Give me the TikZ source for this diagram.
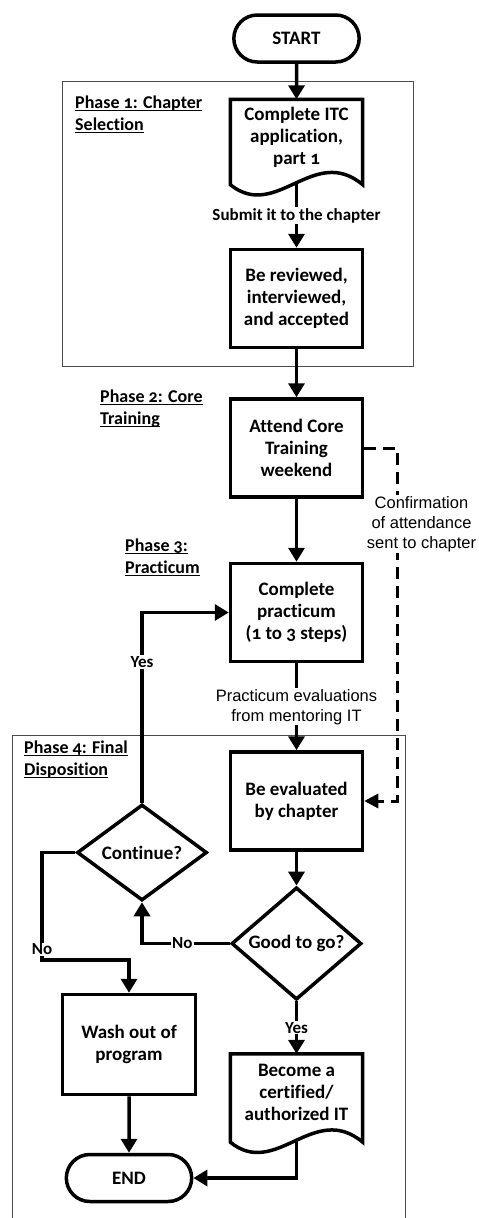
\documentclass[tikz,border=0pt]{standalone}
\usepackage{fontspec}
\setmainfont{Carlito}[Numbers=OldStyle, Ligatures=NoCommon]
\newfontfamily\arialfont{Liberation Sans}
\newsavebox\phulbox
\newcommand\phaseul[1]{\sbox\phulbox{#1}\rlap{\rule[-2.2pt]{\wd\phulbox}{1.2pt}}\usebox\phulbox}
\usetikzlibrary{shapes.geometric,shapes.misc,arrows.meta,calc}

\begin{document}
\begin{tikzpicture}[x=1pt,y=-1pt,
  box/.style={draw, line width=3.5pt, minimum width=132pt, minimum height=98pt, align=center, inner sep=2pt, font=\fontsize{19}{22}\selectfont\bfseries},
  doc/.style={minimum width=132pt, minimum height=76pt, align=center, inner sep=2pt, font=\fontsize{19}{22}\selectfont\bfseries},
  docline/.style={draw, line width=3.5pt},
  term/.style={draw, rounded rectangle, line width=3.5pt, minimum width=132pt, minimum height=47pt, font=\fontsize{19}{22}\selectfont\bfseries},
  decide/.style={draw, diamond, line width=3.5pt, minimum width=130pt, minimum height=96pt, inner sep=0pt, font=\fontsize{19}{22}\selectfont\bfseries},
  phase/.style={anchor=north west, align=left, inner sep=0pt, font=\fontsize{18}{22}\selectfont\bfseries},
  phasebox/.style={draw=black!70, line width=1pt},
  flow/.style={line width=3.5pt, -{Triangle[length=14pt,width=16pt]}},
  dashlink/.style={line width=3pt, dash pattern=on 12pt off 7pt, -{Triangle[length=14pt,width=14pt]}},
  note/.style={fill=white, inner sep=1pt, font=\fontsize{17}{20}\selectfont\bfseries},
  remark/.style={fill=white, inner sep=1pt, align=center, font=\arialfont\fontsize{16.5}{20}\selectfont},
]
\useasboundingbox (0,0) rectangle (479,1218);

% phase frames
\draw[phasebox] (62,81) rectangle (413,366);
\draw[phasebox] (12,735) rectangle (405,1240);

\node[phase] (ph1) at (75,96) {\phaseul{Phase 1: Chapter}\\\phaseul{Selection}};
\node[phase] (ph2) at (100,390) {\phaseul{Phase 2: Core}\\\phaseul{Training}};
\node[phase] (ph3) at (125,539) {\phaseul{Phase 3:}\\\phaseul{Practicum}};
\node[phase] (ph4) at (24,741) {\phaseul{Phase 4: Final}\\\phaseul{Disposition}};

% main column
\node[term] (start) at (296.5,38.5) {START};
\node[doc] (app) at (296.5,137.5) {Complete ITC\\application,\\part 1};
\draw[docline] (app.north west) -- (app.north east) -- ($(app.south east)+(0,9)$)
  .. controls +(-49,-41) and +(46,37) .. ($(app.south west)+(0,9)$) -- cycle;
\coordinate (appfoot) at ($(app.south)+(0,7.5)$);
\node[box] (rev) at (296.5,298.5) {Be reviewed,\\interviewed,\\and accepted};
\node[box] (att) at (296.5,448) {Attend Core\\Training\\weekend};
\node[box] (prac) at (296.5,612.5) {Complete\\practicum\\(1 to 3 steps)};
\node[box] (eval) at (296.5,801) {Be evaluated\\by chapter};
\node[decide] (good) at (296.5,943.5) {Good to go?};
\node[doc] (cert) at (296.5,1092) {Become a\\certified/\\authorized IT};
\draw[docline] (cert.north west) -- (cert.north east) -- ($(cert.south east)+(0,12)$)
  .. controls +(-49,-41) and +(46,37) .. ($(cert.south west)+(0,12)$) -- cycle;
\coordinate (certfoot) at ($(cert.south)+(0,10.5)$);

% left column
\node[decide] (cont) at (142,852.5) {Continue?};
\node[box, minimum width=133pt, minimum height=100pt] (wash) at (129,1044.5) {Wash out of\\program};
\node[term] (finish) at (129,1178) {END};
\coordinate (nocorner) at (42,960);
\coordinate (dashturn) at (397,801);

% connectors
\draw[flow] (start) -- (app);
\draw[flow] (appfoot) -- node[note] {Submit it to the chapter} (rev);
\draw[flow] (rev) -- (att);
\draw[flow] (att) -- (prac);
\draw[flow] (prac) -- node[remark] {Practicum evaluations\\from mentoring IT} (eval);
\draw[flow] (eval) -- (good);
\draw[flow] (good) -- node[note] {Yes} (cert);
\draw[flow] (good.west) -| node[note, pos=0.27] {No} (cont.south);
\draw[flow] (cont.north) |- node[note, pos=0.37] {Yes} (prac.west);
\draw[flow] (cont.west) -| node[note, pos=0.95] {No} (nocorner) -| (wash.north);
\draw[flow] (wash) -- (finish);
\draw[flow] (certfoot) |- (finish.east);
\draw[dashlink] (att.east) -| (dashturn) -- (eval.east);
\node[remark] (confirm) at (421.5,524) {Confirmation\\of attendance\\sent to chapter};
\end{tikzpicture}
\end{document}
